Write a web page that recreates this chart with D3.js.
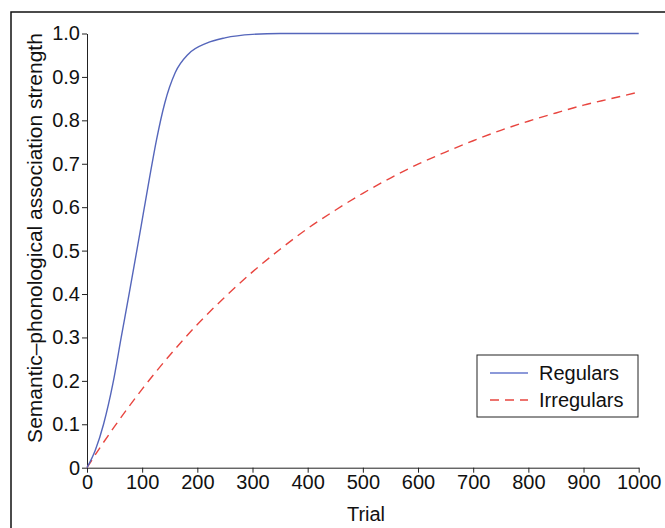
<!DOCTYPE html>
<html>
<head>
<meta charset="utf-8">
<script src="https://cdn.jsdelivr.net/npm/d3@7"></script>
<style>
  body { margin: 0; background: #fff; }
  svg { display: block; font-family: "Liberation Sans", Arial, sans-serif; }
  .axis path, .axis line { stroke: #222; stroke-width: 1; }
  .axis text { font-size: 20px; fill: #111; }
</style>
</head>
<body>
<div id="chart"></div>
<script>
// values
const regularTrials = [0, 15, 30, 47, 62, 77, 91, 102, 113, 126, 141, 160, 184, 217, 250, 300, 350, 400, 500, 600, 700, 800, 900, 1000];
const regularValues = [0, 0.04, 0.1, 0.194, 0.3, 0.405, 0.505, 0.585, 0.665, 0.755, 0.84, 0.91, 0.953, 0.978, 0.99, 0.998, 1.0, 1.0, 1.0, 1.0, 1.0, 1.0, 1.0, 1.0];

const irregularTrials = [0, 25, 50, 75, 100, 150, 200, 250, 300, 350, 400, 450, 500, 550, 600, 650, 700, 750, 800, 850, 900, 950, 1000];
const irregularValues = [0, 0.049, 0.095, 0.139, 0.181, 0.259, 0.33, 0.393, 0.451, 0.503, 0.551, 0.593, 0.632, 0.667, 0.699, 0.727, 0.753, 0.777, 0.798, 0.817, 0.835, 0.85, 0.865];

const xTicks = [0, 100, 200, 300, 400, 500, 600, 700, 800, 900, 1000];
const yTicks = [0, 0.1, 0.2, 0.3, 0.4, 0.5, 0.6, 0.7, 0.8, 0.9, 1.0];
const seriesNames = ["Regulars", "Irregulars"];

const W = 665, H = 528;
const margin = { top: 33.5, left: 87, right: 26.3, bottom: 60.3 };
const width = W - margin.left - margin.right;
const height = H - margin.top - margin.bottom;

const svg = d3.select("#chart").append("svg")
    .attr("width", W)
    .attr("height", H);

// outer frame (top and left visible, rest runs off the picture)
svg.append("rect")
    .attr("x", 11).attr("y", 12)
    .attr("width", 700).attr("height", 600)
    .attr("fill", "none")
    .attr("stroke", "#111")
    .attr("stroke-width", 1.5);

const g = svg.append("g")
    .attr("transform", `translate(${margin.left}, ${margin.top})`);

const x = d3.scaleLinear().domain([0, 1000]).range([0, width]);
const y = d3.scaleLinear().domain([0, 1]).range([height, 0]);

g.append("g")
    .attr("class", "axis")
    .attr("transform", `translate(0, ${height})`)
    .call(d3.axisBottom(x).tickValues(xTicks).tickSize(5).tickSizeOuter(0).tickPadding(2).tickFormat(d3.format("d")));

g.append("g")
    .attr("class", "axis")
    .call(d3.axisLeft(y).tickValues(yTicks).tickSize(5).tickSizeOuter(0).tickPadding(2)
        .tickFormat(d => d === 0 ? "0" : d.toFixed(1)));

const line = d3.line()
    .x(d => x(d[0]))
    .y(d => y(d[1]))
    .curve(d3.curveMonotoneX);

const regular = regularTrials.map((t, i) => [t, regularValues[i]]);
const irregular = irregularTrials.map((t, i) => [t, irregularValues[i]]);

g.append("path")
    .datum(irregular)
    .attr("d", line)
    .attr("fill", "none")
    .attr("stroke", "#e8453f")
    .attr("stroke-width", 1.4)
    .attr("stroke-dasharray", "9,6");

g.append("path")
    .datum(regular)
    .attr("d", line)
    .attr("fill", "none")
    .attr("stroke", "#5566bb")
    .attr("stroke-width", 1.4);

// axis titles
svg.append("text")
    .attr("x", 366)
    .attr("y", 521)
    .attr("text-anchor", "middle")
    .attr("font-size", 20)
    .attr("fill", "#111")
    .text("Trial");

svg.append("text")
    .attr("transform", "translate(42, 238) rotate(-90)")
    .attr("text-anchor", "middle")
    .attr("font-size", 21)
    .attr("fill", "#111")
    .text("Semantic\u2013phonological association strength");

// legend
const legend = svg.append("g").attr("transform", "translate(477, 355)");
legend.append("rect")
    .attr("width", 161).attr("height", 62)
    .attr("fill", "#fff")
    .attr("stroke", "#222")
    .attr("stroke-width", 1);

const legendStyles = [
    { color: "#6677cc", dash: null },
    { color: "#e8453f", dash: "9,6" }
];
seriesNames.forEach((name, i) => {
    const yy = 18 + i * 27;
    legend.append("line")
        .attr("x1", 13).attr("x2", 51)
        .attr("y1", yy).attr("y2", yy)
        .attr("stroke", legendStyles[i].color)
        .attr("stroke-width", 1.4)
        .attr("stroke-dasharray", legendStyles[i].dash);
    legend.append("text")
        .attr("x", 62).attr("y", yy + 7)
        .attr("font-size", 20)
        .attr("fill", "#111")
        .text(name);
});
</script>
</body>
</html>
